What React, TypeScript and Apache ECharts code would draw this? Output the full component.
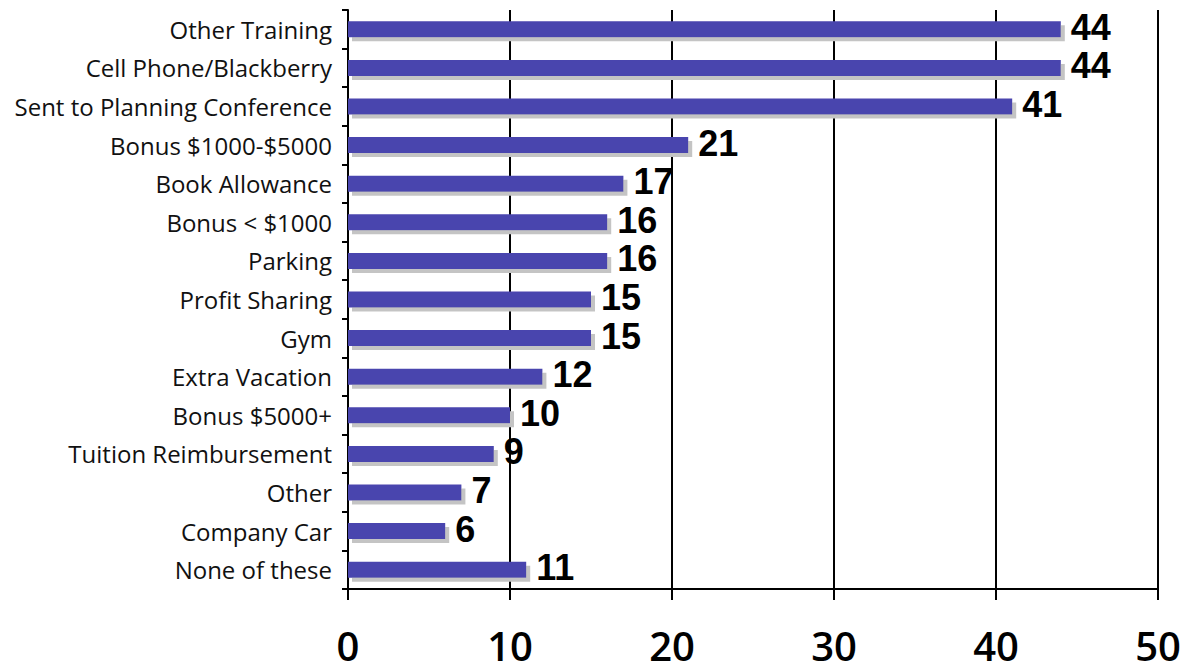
import React, { useEffect, useRef } from "react";
import * as echarts from "echarts";

const categories = [
  "Other Training",
  "Cell Phone/Blackberry",
  "Sent to Planning Conference",
  "Bonus $1000-$5000",
  "Book Allowance",
  "Bonus < $1000",
  "Parking",
  "Profit Sharing",
  "Gym",
  "Extra Vacation",
  "Bonus $5000+",
  "Tuition Reimbursement",
  "Other",
  "Company Car",
  "None of these",
];
const values = [44, 44, 41, 21, 17, 16, 16, 15, 15, 12, 10, 9, 7, 6, 11];
const xTicks = [0, 10, 20, 30, 40, 50];

export default function App() {
  const ref = useRef<HTMLDivElement>(null);
  useEffect(() => {
    if (!ref.current) return;
    const chart = echarts.init(ref.current, undefined, { renderer: "svg" });
    chart.setOption({
      animation: false,
      backgroundColor: "#ffffff",
      grid: { left: 348, right: 30, top: 10, bottom: 76, containLabel: false },
      xAxis: {
        type: "value",
        min: xTicks[0],
        max: xTicks[xTicks.length - 1],
        interval: 10,
        axisLine: { show: true, lineStyle: { color: "#000", width: 2 } },
        axisTick: { show: true, length: 11, lineStyle: { color: "#000", width: 2 } },
        splitLine: { show: true, lineStyle: { color: "#000", width: 2 } },
        axisLabel: {
          margin: 40,
          fontSize: 40,
          lineHeight: 32,
          fontWeight: 600,
          color: "#000",
          fontFamily: "Open Sans",
        },
      },
      yAxis: {
        type: "category",
        data: categories,
        inverse: true,
        axisLine: { show: true, lineStyle: { color: "#000", width: 2 } },
        axisTick: { show: true, length: 6, lineStyle: { color: "#000", width: 2 } },
        axisLabel: {
          margin: 16,
          fontSize: 24,
          color: "#111",
          fontFamily: "Open Sans",
        },
      },
      series: [
        {
          type: "bar",
          data: values,
          barWidth: 16,
          itemStyle: {
            color: "#4A44AE",
            shadowColor: "#c4c4c4",
            shadowBlur: 0,
            shadowOffsetX: 4,
            shadowOffsetY: 4,
          },
          label: {
            show: true,
            position: "right",
            distance: 10,
            fontSize: 36,
            lineHeight: 28,
            fontWeight: "bold",
            color: "#000",
            fontFamily: "Liberation Sans",
            offset: [0, -2],
          },
        },
      ],
    });
    return () => chart.dispose();
  }, []);
  return (
    <div
      ref={ref}
      style={{ position: "fixed", left: 0, top: 0, width: 1188, height: 665 }}
    />
  );
}
